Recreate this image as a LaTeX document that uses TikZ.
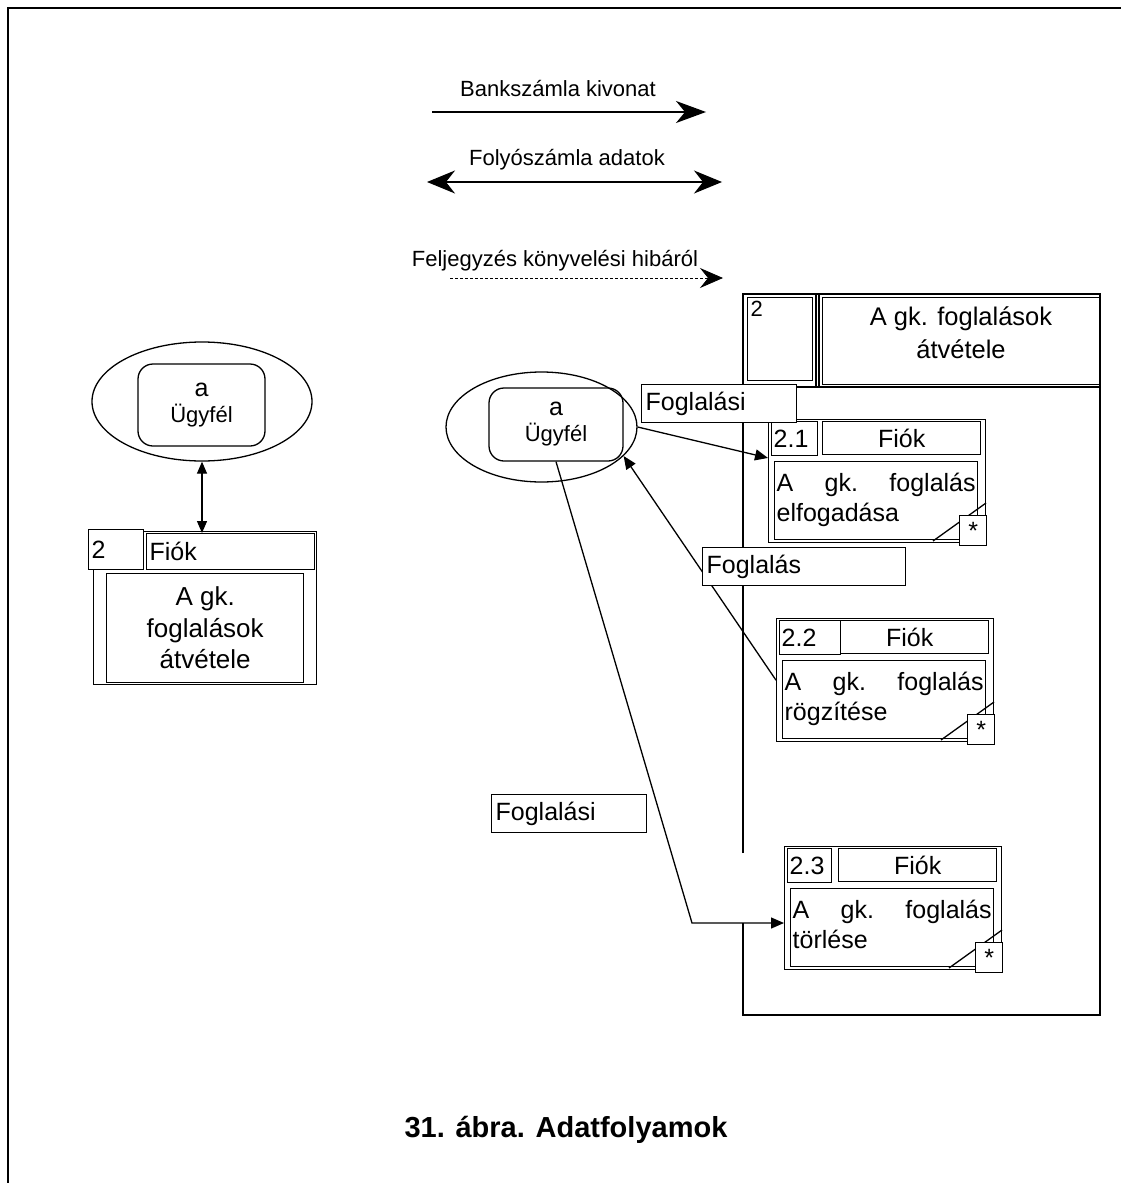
\documentclass[tikz,border=0pt]{standalone}
\usepackage{fontspec}
\setmainfont{Liberation Sans}
\usetikzlibrary{calc, positioning, arrows.meta, shapes.geometric}

\newcommand{\flowfont}{\fontsize{22}{26}\selectfont}
\newcommand{\boxfont}{\fontsize{25}{30}\selectfont}
\newcommand{\headfont}{\fontsize{25.5}{33}\selectfont}
\newcommand{\titlefont}{\fontsize{29}{34}\selectfont\bfseries}

\begin{document}
\begin{tikzpicture}[x=1pt, y=-1pt, line width=1.3pt,
        box/.style={draw, rectangle, inner sep=0pt, anchor=north west},
        whitebox/.style={box, fill=white},
        flowlabel/.style={whitebox, align=left, inner xsep=4pt, minimum height=38pt, font=\boxfont},
        bigtip/.style={-{Stealth[length=30pt, width=22pt, inset=9pt]}},
        smalltip/.style={-{Triangle[length=13pt, width=11pt]}}]
            \useasboundingbox (0,0) rectangle (1121,1183);

            % Page frame
            \draw[line width=2pt] (7.5,1183) -- (7.5,7.5) -- (1121,7.5);

            % Legend arrows at the top
            \coordinate (bankA) at (432,112);
            \coordinate (bankB) at (706,112);
            \draw[bigtip] (bankA) -- (bankB);
            \node[font=\flowfont] (bankTxt) at (558,89) {Bankszámla kivonat};

            \coordinate (folyA) at (427,182);
            \coordinate (folyB) at (722,182);
            \draw[{Stealth[length=28pt, width=23pt, inset=9pt]}-{Stealth[length=28pt, width=23pt, inset=9pt]}] (folyA) -- (folyB);
            \node[font=\flowfont] (folyTxt) at (567,160) {Folyószámla adatok};

            \coordinate (felA) at (450,278);
            \coordinate (felB) at (723,278);
            \draw[line width=0.8pt, dash pattern=on 3pt off 2pt, -{Stealth[length=23pt, width=20pt, inset=8pt]}] (felA) -- (felB);
            \node[font=\flowfont] (felTxt) at (555,261) {Feljegyzés könyvelési hibáról};

            % Left side: customer and process 2
            \node[draw, ellipse, minimum width=220pt, minimum height=119pt, inner sep=0pt] (ellL) at (202,401.5) {};
            \node[draw, rounded corners=15pt, minimum width=127pt, minimum height=82pt, inner sep=0pt, align=center, font=\flowfont] (ugyL) at (201.5,405) {{\boxfont a}\\Ügyfél};

            \node[box, minimum width=223pt, minimum height=153pt] (procL) at (93,531) {};
            \node[whitebox, minimum width=55pt, minimum height=40pt] (procLnum) at (88,529) {};
            \node[font=\boxfont, anchor=west, inner sep=3pt] (procLnumTxt) at (procLnum.west) {2};
            \node[whitebox, minimum width=168pt, minimum height=36pt] (procLfiok) at (146,533) {};
            \node[font=\boxfont, anchor=west, inner sep=3pt] (procLfiokTxt) at (procLfiok.west) {Fiók};
            \node[box, minimum width=197pt, minimum height=109pt, align=center, font=\fontsize{26}{31.5}\selectfont] (procLbody) at (106,573) {A gk.\\foglalások\\átvétele};

            % add double arrow
            \draw[{Triangle[length=12pt, width=10pt]}-{Triangle[length=12pt, width=10pt]}] (ellL.south) -- (ellL.south |- procLfiok.north);

            % Right side: process 2 opened up
            \draw (743,853) -- (743,294) -- (1100,294) -- (1100,1015) -- (743,1015) -- (743,923);
            \draw (743,387) -- (1100,387);
            \draw (816,294) -- (816,387);
            \draw (819,294) -- (819,387);
            \node[box, minimum width=65pt, minimum height=83pt] (headNum) at (747,297) {};
            \node[font=\flowfont, anchor=north west, inner sep=3pt] (headNumTxt) at (headNum.north west) {2};
            \node[box, minimum width=278pt, minimum height=87pt] (headTitle) at (822,297) {};
            \node[font=\headfont, align=center] (headTitleTxt) at (961,333) {A gk. foglalások\\átvétele};

            \foreach \i/\px/\py/\nw/\num/\wordB in {1/768/419/46/2.1/elfogadása, 2/776/618/61/2.2/rögzítése, 3/784/846/44/2.3/törlése} {
                    \node[box, minimum width=217pt, minimum height=123pt] (sub\i) at (\px,\py) {};
                    \node[box, minimum width=158pt, minimum height=33pt, font=\boxfont] (fiok\i) at (\px+54,\py+2) {Fiók};
                    \node[whitebox, minimum width=\nw, minimum height=34pt] (num\i) at (\px+3,\py+2) {};
                    \node[font=\boxfont, anchor=west, inner sep=2pt] (numTxt\i) at (num\i.west) {\num};
                    \node[box, minimum width=203pt, minimum height=78pt] (body\i) at (\px+6,\py+42) {};
                    \node[font=\boxfont, anchor=north west, text width=199pt, align=left, inner sep=0pt] (bodyTxt\i) at (\px+8,\py+53) {A\hfill gk.\hfill foglalás\\\wordB};
                    \draw (\px+165,\py+122) -- (\px+218,\py+84);
                    \node[whitebox, minimum width=27pt, minimum height=30pt, font=\boxfont] (star\i) at (\px+191,\py+96) {*};
                }

            % customer on the right
            \node[draw, ellipse, minimum width=191pt, minimum height=110pt, inner sep=0pt] (ellR) at (541.5,427) {};
            \node[draw, rounded corners=15pt, minimum width=134pt, minimum height=73pt, inner sep=0pt, align=center, font=\flowfont] (ugyR) at (556,424.5) {{\boxfont a}\\Ügyfél};

            % Add the data flows
            \draw[smalltip] (ellR.east) -- (sub1.168);
            \draw[smalltip] (sub2.west) -- (ugyR.-25);
            \coordinate (knee) at (692,923);
            \draw[smalltip] (ugyR.south) -- (knee) -- (knee -| sub3.west);

            % Add labels of the flows
            \node[flowlabel, text width=147pt] (lblTop) at (641,384) {Foglalási};
            \node[flowlabel, text width=195pt] (lblMid) at (702,547) {Foglalás};
            \node[flowlabel, text width=147pt] (lblLow) at (491,794) {Foglalási};

            % Caption
            \node[font=\titlefont] (figTitle) at (566,1130) {31. ábra. Adatfolyamok};

        \end{tikzpicture}
\end{document}
